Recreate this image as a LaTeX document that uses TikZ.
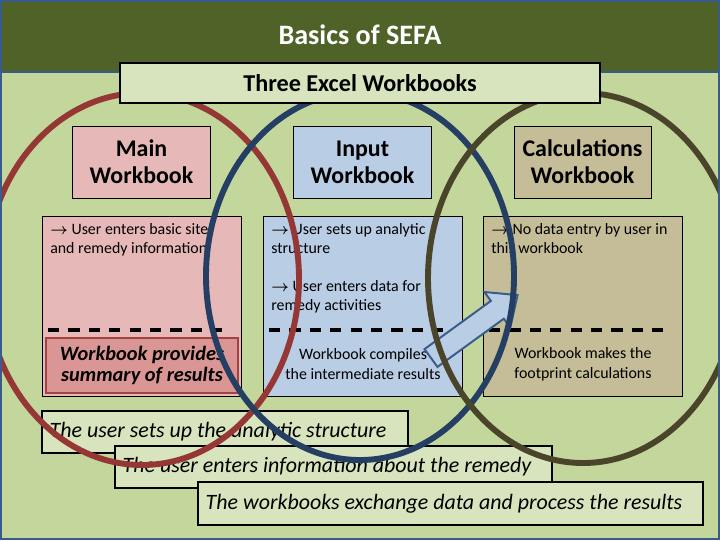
\documentclass[tikz,border=0pt]{standalone}
\usepackage{fontspec}
\setmainfont{Carlito}
\usetikzlibrary{positioning,fit}

\definecolor{slidegreen}{HTML}{C3D69B}
\definecolor{titlegreen}{HTML}{4F6228}
\definecolor{framegreen}{HTML}{D7E4BD}
\definecolor{edgeblue}{HTML}{385D8A}
\definecolor{mainpink}{HTML}{E6B9B8}
\definecolor{sumpink}{HTML}{D99694}
\definecolor{sumedge}{HTML}{A3433F}
\definecolor{inputblue}{HTML}{B9CDE5}
\definecolor{calctan}{HTML}{C4BD97}
\definecolor{ringred}{HTML}{953735}
\definecolor{ringblue}{HTML}{243F63}
\definecolor{ringolive}{HTML}{4A452A}

\newcommand{\todo}{{\boldmath$\rightarrow$}}

\tikzset{
  headbox/.style={draw, line width=0.7pt, inner sep=0pt, align=center,
    minimum width=3.425cm, minimum height=1.8cm,
    font=\fontsize{17}{19}\selectfont\bfseries},
  bodybox/.style={draw, line width=0.7pt, inner sep=0pt,
    minimum width=4.95cm, minimum height=4.475cm},
  bodytext/.style={inner sep=0pt, anchor=north west, align=left,
    font=\fontsize{11.3}{13.5}\selectfont},
  resulttext/.style={inner sep=0pt, align=center,
    font=\fontsize{11.3}{14}\selectfont},
  cutline/.style={line width=2.9pt, dash pattern=on 8pt off 6.5pt},
  stepbox/.style={draw, line width=2pt, fill=framegreen, inner sep=0pt},
  steptext/.style={inner sep=0pt, font=\fontsize{15.6}{18}\selectfont\itshape},
  ring/.style={line width=4.2pt},
}

\begin{document}
\begin{tikzpicture}[x=0.025cm, y=-0.025cm]
% slide background and title bar
\fill[slidegreen] (0,0) rectangle (720,540);
\useasboundingbox (0,0) rectangle (720,540);
\fill[titlegreen] (0,0) rectangle (720,72);
\draw[edgeblue, line width=2pt] (0,72) -- (720,72);
\node[text=white, font=\fontsize{20}{24}\selectfont\bfseries] (title) at (360,35) {Basics of SEFA};

% the three workbooks
\foreach \wb/\dx/\col/\head in {main/0/mainpink/{Main\\Workbook},
    input/221/inputblue/{Input\\Workbook},
    calc/441/calctan/{Calculations\\Workbook}} {
  \node[headbox, fill=\col] (\wb-head) at (141.5+\dx,162) {\head};
  \node[bodybox, fill=\col] (\wb-body) at (142+\dx,306.5) {};
  \draw[cutline] (48+\dx,330) -- (230+\dx,330);
}

\node[bodytext] (mainnote) at (50,223) {\todo{} User enters basic site\\and remedy information};
\node[bodytext] (inputnote) at (271,223) {\todo{} User sets up analytic\\structure\\[13.5pt]\todo{} User enters data for\\remedy activities};
\node[bodytext] (calcnote) at (491,223) {\todo{} No data entry by user in\\this workbook};

\node[draw=sumedge, line width=2pt, fill=sumpink, inner sep=0pt, align=center,
  minimum width=4.8cm, minimum height=1.375cm,
  font=\fontsize{14.5}{15.5}\selectfont\bfseries\itshape] (main-result) at (142,365.5)
  {Workbook provides\\summary of results};
\node[resulttext] (input-result) at (363,364) {Workbook compiles\\the intermediate results};
\node[resulttext] (calc-result) at (583,364) {Workbook makes the\\footprint calculations};

% block arrow from input to calculations
\begin{scope}[shift={(431,358)}, rotate=36]
  \draw[edgeblue, line width=1.4pt, fill=inputblue, line join=miter]
    (0,-11) -- (82,-11) -- (82,-22) -- (107,0) -- (82,22) -- (82,11) -- (0,11) -- cycle;
\end{scope}

% steps
\foreach \n/\xa/\ya/\xb/\yb/\txt in {
    1/42/411/408/453/{The user sets up the analytic structure},
    2/115/446/552/488/{The user enters information about the remedy},
    3/198/482/703/525/{The workbooks exchange data and process the results}} {
  \node[stepbox, fit={(\xa,\ya) (\xb,\yb)}] (step\n) {};
  \node[steptext, right=0.22cm of step\n.west] (steptext\n) {\txt};
}

% rings
\foreach \cx/\cy/\rx/\ry/\col in {142/279/157/186/ringred,
    360/276/154/184/ringblue, 583/278/155/185/ringolive}
  \draw[ring, \col] (\cx,\cy) ellipse [x radius=\rx, y radius=\ry];

\node[draw, line width=2pt, fill=framegreen, inner sep=0pt,
  minimum width=12cm, minimum height=1cm,
  font=\fontsize{17.2}{20}\selectfont\bfseries] (subtitle) at (360,83) {Three Excel Workbooks};

\draw[edgeblue, line width=1.4pt] (1,1) rectangle (719,539);
\end{tikzpicture}
\end{document}
